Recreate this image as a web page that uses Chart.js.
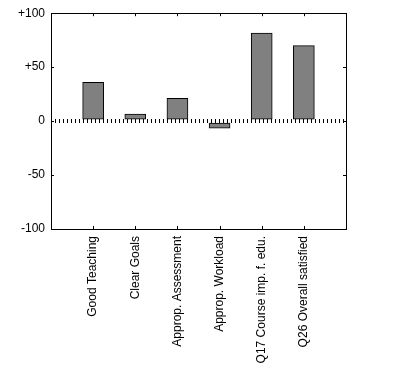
<!DOCTYPE html>
<html>
<head>
<meta charset="utf-8">
<script src="https://cdn.jsdelivr.net/npm/chart.js@4/dist/chart.umd.min.js"></script>
<style>
  body { margin: 0; background: #fff; }
  #wrap { width: 395px; height: 366px; }
</style>
</head>
<body>
<div id="wrap"><canvas id="chart" width="395" height="366"></canvas></div>
<script>
// categories, padded with an empty slot on each side
const categories = ["", "Good Teaching", "Clear Goals", "Approp. Assessment", "Approp. Workload", "Q17 Course imp. f. edu.", "Q26 Overall satisfied", ""]
const scores = [null, 36, 6.5, 21, -6.5, 81.5, 70, null]
const yTicks = [-100, -50, 0, 50, 100]

// frame around the plot plus short inward tick marks on all four sides
const frameTicks = {
  id: "frameTicks",
  afterDraw(chart) {
    const { ctx, chartArea: a, scales } = chart
    const len = 3
    ctx.save()
    ctx.strokeStyle = "#000"
    ctx.lineWidth = 1
    ctx.strokeRect(Math.round(a.left) + 0.5, Math.round(a.top) + 0.5,
      Math.round(a.right - a.left), Math.round(a.bottom - a.top))
    ctx.beginPath()
    for (let i = 1; i < categories.length - 1; i++) {
      const x = Math.round(scales.x.getPixelForValue(i)) + 0.5
      ctx.moveTo(x, a.top); ctx.lineTo(x, a.top + len)
      ctx.moveTo(x, a.bottom); ctx.lineTo(x, a.bottom - len)
    }
    yTicks.forEach(v => {
      const y = Math.round(scales.y.getPixelForValue(v)) + 0.5
      ctx.moveTo(a.left, y); ctx.lineTo(a.left + len, y)
      ctx.moveTo(a.right, y); ctx.lineTo(a.right - len, y)
    })
    ctx.stroke()
    ctx.restore()
  }
}

const font = { family: "'Liberation Sans', Arial, sans-serif", size: 12 }

new Chart(document.getElementById("chart"), {
  type: "bar",
  data: {
    labels: categories,
    datasets: [{
      data: scores,
      backgroundColor: "#808080",
      borderColor: "#000",
      borderWidth: 1,
      borderSkipped: false,
      barThickness: 21,
    }],
  },
  options: {
    responsive: false,
    animation: false,
    layout: { padding: { top: 13, right: 49, left: 0, bottom: 0 } },
    plugins: { legend: { display: false }, tooltip: { enabled: false } },
    scales: {
      x: {
        offset: false,
        grid: { display: false, drawTicks: false },
        border: { display: false },
        ticks: {
          color: "#000",
          font: font,
          padding: 7,
          minRotation: 90,
          maxRotation: 90,
          autoSkip: false,
        },
        afterFit: scale => { scale.height = 137 },
      },
      y: {
        min: -100,
        max: 100,
        afterBuildTicks: scale => { scale.ticks = yTicks.map(v => ({ value: v })) },
        grid: {
          z: 1,
          drawTicks: false,
          color: "#000",
          lineWidth: c => (c.tick && c.tick.value === 0 ? 4 : 0),
        },
        border: { display: false, dash: [1, 3] },
        ticks: {
          color: "#000",
          font: font,
          padding: 6,
          callback: v => (v > 0 ? "+" + v : String(v)),
        },
        afterFit: scale => { scale.width = 51 },
      },
    },
  },
  plugins: [frameTicks],
})
</script>
</body>
</html>
